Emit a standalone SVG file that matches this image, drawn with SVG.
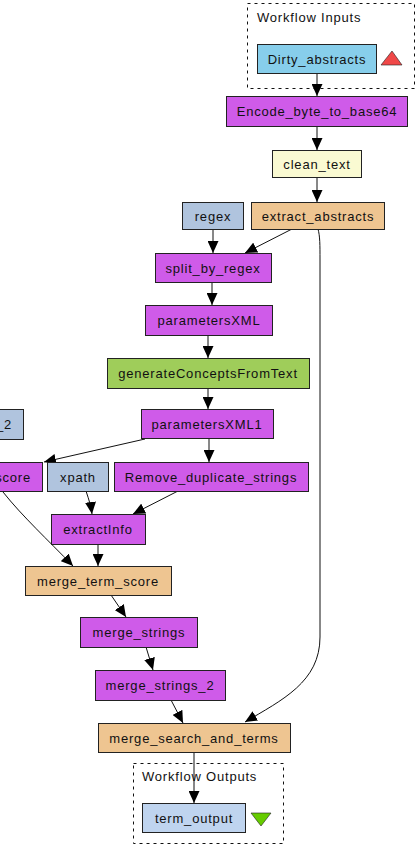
<svg xmlns="http://www.w3.org/2000/svg" width="416" height="846" viewBox="0 0 416 846">
  <style>
    .node rect { stroke: #222; stroke-width: 1; }
    .proc { fill: #cf5be9; }
    .const { fill: #b0c4de; }
    .merge { fill: #eec591; }
    .beanshell { fill: #fafad2; }
    .green { fill: #9fcd5a; }
    .input { fill: #87ceeb; }
    .output { fill: #bfd4ef; }
    text { font-family: "Liberation Sans", Arial, sans-serif; font-size: 13px; letter-spacing: 0.8px; fill: #111; }
    .lbl { text-anchor: middle; }
    .cluster { fill: none; stroke: #111; stroke-width: 1; stroke-dasharray: 3 4; }
    .edge { fill: none; stroke: #111; stroke-width: 1; marker-end: url(#arrow); }
  </style>
  <defs>
    <marker id="arrow" markerUnits="userSpaceOnUse" markerWidth="13" markerHeight="11" refX="12" refY="5.5" orient="auto">
      <path d="M0,0 L12,5.5 L0,11 z" fill="#000"/>
    </marker>
  </defs>
  <rect width="416" height="846" fill="#fff"/>

  <!-- clusters -->
  <g id="workflow_inputs">
    <rect class="cluster" x="247.5" y="3.5" width="167" height="85"/>
    <text x="257" y="22">Workflow Inputs</text>
  </g>
  <g id="workflow_outputs">
    <rect class="cluster" x="133.5" y="763.5" width="150" height="80"/>
    <text x="142" y="781">Workflow Outputs</text>
  </g>

  <!-- connectors -->
  <g id="edges">
    <path class="edge" d="M317,73 L317,96"/>
    <path class="edge" d="M317,126 L317,150"/>
    <path class="edge" d="M317,177 L317,202"/>
    <path class="edge" d="M213,229 L213,253"/>
    <path class="edge" d="M292,229 L245,253"/>
    <path class="edge" d="M318,229 C320,236 320,245 320,260 L320,637 C320,682 282,700 245,722"/>
    <path class="edge" d="M212,282 L212,305"/>
    <path class="edge" d="M208,335 L208,358"/>
    <path class="edge" d="M208,388 L208,409"/>
    <path class="edge" d="M209,438 L209,462"/>
    <path class="edge" d="M145,439 L44,462"/>
    <path class="edge" d="M86,491 C89,500 91,506 92,514"/>
    <path class="edge" d="M178,491 L133,514"/>
    <path class="edge" d="M3,492 C22,516 48,540 73,566"/>
    <path class="edge" d="M98,544 L98,566"/>
    <path class="edge" d="M111,595 L126,617"/>
    <path class="edge" d="M146,647 L153,670"/>
    <path class="edge" d="M171,700 L183,723"/>
    <path class="edge" d="M194,752 L194,803"/>
  </g>

  <!-- nodes -->
  <g id="Dirty_abstracts" class="node">
    <rect class="input" x="257.5" y="44.5" width="119" height="29"/>
    <text class="lbl" x="317" y="64">Dirty_abstracts</text>
    <polygon points="381,65 392,51 402,65" fill="#f04848" stroke="#222" stroke-width="0.6"/>
  </g>
  <g id="Encode_byte_to_base64" class="node">
    <rect class="proc" x="226.5" y="96.5" width="181" height="30"/>
    <text class="lbl" x="317" y="116">Encode_byte_to_base64</text>
  </g>
  <g id="clean_text" class="node">
    <rect class="beanshell" x="272.5" y="150.5" width="89" height="27"/>
    <text class="lbl" x="317" y="169">clean_text</text>
  </g>
  <g id="regex" class="node">
    <rect class="const" x="182.5" y="202.5" width="61" height="27"/>
    <text class="lbl" x="213" y="221">regex</text>
  </g>
  <g id="extract_abstracts" class="node">
    <rect class="merge" x="251.5" y="202.5" width="133" height="27"/>
    <text class="lbl" x="318" y="221">extract_abstracts</text>
  </g>
  <g id="split_by_regex" class="node">
    <rect class="proc" x="155.5" y="253.5" width="116" height="29"/>
    <text class="lbl" x="213" y="273">split_by_regex</text>
  </g>
  <g id="parametersXML" class="node">
    <rect class="proc" x="145.5" y="305.5" width="127" height="30"/>
    <text class="lbl" x="209" y="325">parametersXML</text>
  </g>
  <g id="generateConceptsFromText" class="node">
    <rect class="green" x="107.5" y="358.5" width="202" height="30"/>
    <text class="lbl" x="208" y="378">generateConceptsFromText</text>
  </g>
  <g id="parametersXML1" class="node">
    <rect class="proc" x="141.5" y="409.5" width="132" height="29"/>
    <text class="lbl" x="207" y="429">parametersXML1</text>
  </g>
  <g id="parametersXML2" class="node">
    <rect class="const" x="-40.5" y="409.5" width="64" height="30"/>
    <text x="12" y="429" text-anchor="end">_2</text>
  </g>
  <g id="score" class="node">
    <rect class="proc" x="-60.5" y="462.5" width="103" height="29"/>
    <text x="31" y="482" text-anchor="end">score</text>
  </g>
  <g id="xpath" class="node">
    <rect class="const" x="47.5" y="462.5" width="61" height="29"/>
    <text class="lbl" x="78" y="482">xpath</text>
  </g>
  <g id="Remove_duplicate_strings" class="node">
    <rect class="proc" x="114.5" y="462.5" width="194" height="29"/>
    <text class="lbl" x="211" y="482">Remove_duplicate_strings</text>
  </g>
  <g id="extractInfo" class="node">
    <rect class="proc" x="51.5" y="514.5" width="94" height="30"/>
    <text class="lbl" x="98" y="534">extractInfo</text>
  </g>
  <g id="merge_term_score" class="node">
    <rect class="merge" x="25.5" y="566.5" width="146" height="29"/>
    <text class="lbl" x="98" y="586">merge_term_score</text>
  </g>
  <g id="merge_strings" class="node">
    <rect class="proc" x="80.5" y="617.5" width="117" height="30"/>
    <text class="lbl" x="139" y="637">merge_strings</text>
  </g>
  <g id="merge_strings_2" class="node">
    <rect class="proc" x="95.5" y="670.5" width="130" height="30"/>
    <text class="lbl" x="160" y="690">merge_strings_2</text>
  </g>
  <g id="merge_search_and_terms" class="node">
    <rect class="merge" x="98.5" y="723.5" width="192" height="29"/>
    <text class="lbl" x="194" y="743">merge_search_and_terms</text>
  </g>
  <g id="term_output" class="node">
    <rect class="output" x="142.5" y="803.5" width="103" height="29"/>
    <text class="lbl" x="194" y="823">term_output</text>
    <polygon points="251,813 271,813 261,826" fill="#66cc00" stroke="#222" stroke-width="0.6"/>
  </g>
</svg>
